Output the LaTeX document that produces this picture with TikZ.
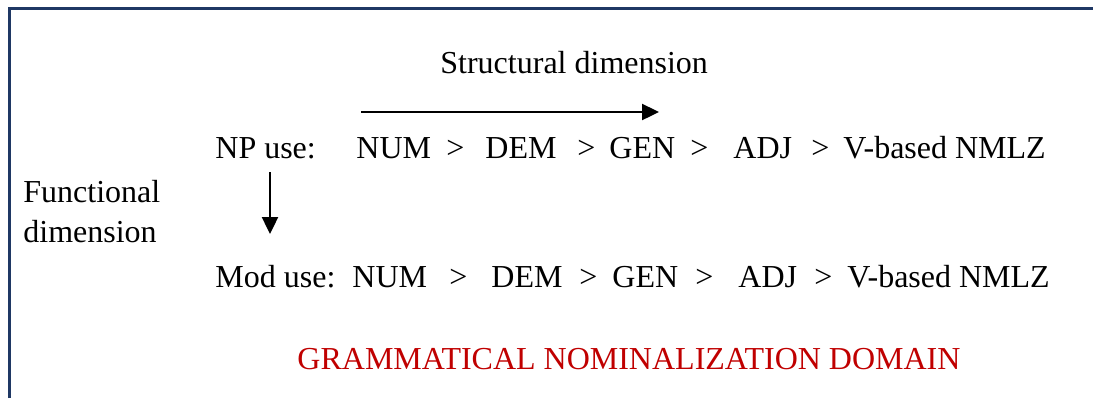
\documentclass[tikz,border=0pt]{standalone}
\usepackage{fontspec}
\setmainfont{Liberation Serif}
\usetikzlibrary{arrows.meta}
\definecolor{framenavy}{RGB}{31,56,100}
\definecolor{domainred}{RGB}{192,0,0}
\begin{document}
\begin{tikzpicture}[x=0.5pt,y=-0.5pt,
  tok/.style={anchor=base west,inner sep=0pt,font=\fontsize{16}{20}\selectfont},
  dimarrow/.style={-{Triangle[length=8.5pt,width=8pt]},line width=1.2pt}]
\useasboundingbox (0,0) rectangle (1093,398);
% frame, only top and left edges show
\draw[framenavy,line width=1.5pt] (9.5,398) -- (9.5,8.5) -- (1093,8.5);
% structural dimension
\node[tok] (structlbl) at (440,73) {Structural dimension};
\coordinate (structfrom) at (361,112);
\coordinate (structto) at (659,112);
\draw[dimarrow] (structfrom) -- (structto);
% functional dimension
\node[tok,anchor=north west,align=left] (funclbl) at (23,180) {Functional\\dimension};
\coordinate (funcfrom) at (270,172);
\coordinate (functo) at (270,234);
\draw[dimarrow] (funcfrom) -- (functo);
% NP use row
\node[tok] (npuse) at (215,158) {NP use:};
\node[tok] (npnum) at (356,158) {NUM};
\node[tok] (npgta) at (446,158) {>};
\node[tok] (npdem) at (485,158) {DEM};
\node[tok] (npgtb) at (577,158) {>};
\node[tok] (npgen) at (609,158) {GEN};
\node[tok] (npgtc) at (690,158) {>};
\node[tok] (npadj) at (733,158) {ADJ};
\node[tok] (npgtd) at (811,158) {>};
\node[tok] (npnmlz) at (843,158) {V-based NMLZ};
% Mod use row
\node[tok] (moduse) at (215,287) {Mod use:};
\node[tok] (modnum) at (352,287) {NUM};
\node[tok] (modgta) at (449,287) {>};
\node[tok] (moddem) at (491,287) {DEM};
\node[tok] (modgtb) at (579,287) {>};
\node[tok] (modgen) at (612,287) {GEN};
\node[tok] (modgtc) at (695,287) {>};
\node[tok] (modadj) at (738,287) {ADJ};
\node[tok] (modgtd) at (814,287) {>};
\node[tok] (modnmlz) at (847,287) {V-based NMLZ};
% domain label
\node[tok,anchor=base,text=domainred] (domainlbl) at (629,369) {GRAMMATICAL NOMINALIZATION DOMAIN};
\end{tikzpicture}
\end{document}
